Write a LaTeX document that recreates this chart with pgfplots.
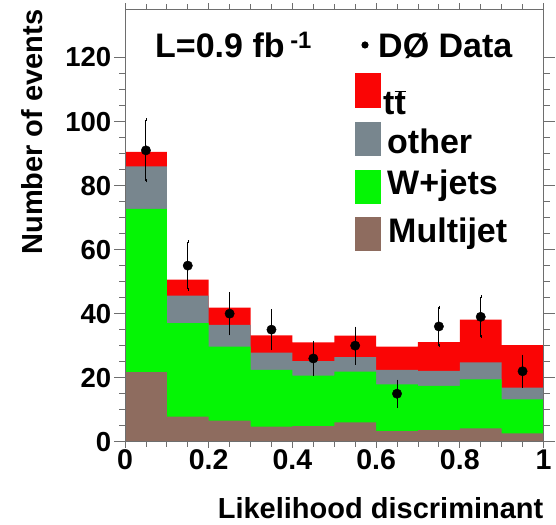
\documentclass[border=0pt]{standalone}
\usepackage{pgfplots}
\pgfplotsset{compat=1.18}
\usepackage{fontspec}
\setmainfont{Liberation Sans}
\definecolor{ttred}{RGB}{250,5,5}
\definecolor{othgray}{RGB}{120,134,142}
\definecolor{wgreen}{RGB}{5,245,5}
\definecolor{mjbrown}{RGB}{142,108,95}
\definecolor{framegray}{RGB}{110,110,110}
\newcommand{\fs}[1]{\fontsize{#1bp}{#1bp}\selectfont\bfseries}
\begin{document}
\begin{tikzpicture}
\path[use as bounding box] (-125bp,-83.3bp) rectangle (431bp,441.7bp);
\begin{axis}[
  at={(0,0)}, anchor=south west,
  scale only axis, width=418.5bp, height=432.2bp,
  xmin=0, xmax=1, ymin=0, ymax=135,
  xtick={0,0.2,0.4,0.6,0.8,1},
  ytick={0,20,...,120},
  minor x tick num=3, minor y tick num=3,
  tick align=outside,
  axis line style={framegray, line width=0.8bp},
  tick style={framegray, line width=0.8bp},
  xtick style={/pgfplots/major tick length=6bp,/pgfplots/minor tick length=5bp},
  ytick style={/pgfplots/major tick length=11bp,/pgfplots/minor tick length=6bp},
  xticklabel style={font=\fs{28.5}},
  yticklabel style={font=\fs{27.5}, xshift=-6bp},
  /pgf/number format/assume math mode=true,
  axis on top,
  clip=false,
]
% cumulative stack tops: total (ttbar on top)
\addplot[const plot, fill=ttred, draw=none] coordinates {
(0,90.5)(0.1,50.6)(0.2,41.9)(0.3,33.2)(0.4,31.0)(0.5,33.1)(0.6,29.7)(0.7,31.1)(0.8,38.1)(0.9,30.2)(1,30.2)} \closedcycle;
% other + W+jets + multijet
\addplot[const plot, fill=othgray, draw=none] coordinates {
(0,86.0)(0.1,45.6)(0.2,36.5)(0.3,27.8)(0.4,25.2)(0.5,26.4)(0.6,22.4)(0.7,22.1)(0.8,24.8)(0.9,16.9)(1,16.9)} \closedcycle;
% W+jets + multijet
\addplot[const plot, fill=wgreen, draw=none] coordinates {
(0,72.7)(0.1,37.0)(0.2,29.7)(0.3,22.4)(0.4,20.6)(0.5,21.9)(0.6,17.9)(0.7,17.4)(0.8,19.5)(0.9,13.2)(1,13.2)} \closedcycle;
% multijet
\addplot[const plot, fill=mjbrown, draw=none] coordinates {
(0,21.7)(0.1,7.8)(0.2,6.6)(0.3,4.7)(0.4,4.9)(0.5,6.0)(0.6,3.3)(0.7,3.6)(0.8,4.2)(0.9,2.6)(1,2.6)} \closedcycle;
% data
\addplot[only marks, mark=*, mark size=4.7bp, black,
  error bars/.cd, y dir=both, y explicit,
  error bar style={line width=1bp, black},
  error mark options={mark size=1.5bp, black}]
coordinates {
(0.05,91) +- (0,9.5)
(0.15,55) +- (0,7.4)
(0.25,40) +- (0,6.3)
(0.35,35) +- (0,5.9)
(0.45,26) +- (0,5.1)
(0.55,30) +- (0,5.5)
(0.65,15) +- (0,3.9)
(0.75,36) +- (0,6.0)
(0.85,39) +- (0,6.2)
(0.95,22) +- (0,4.7)
};
\end{axis}
% legend and texts
\node[anchor=base west, inner sep=0, font=\fs{34}] at (30bp,384.4bp) {L=0.9 fb\,\textsuperscript{-1}};
\fill (240bp,396.7bp) circle (3.6bp);
\node[anchor=base west, inner sep=0, font=\fs{34}] at (253bp,384.4bp) {DØ Data};
\fill[ttred] (230bp,333.7bp) rectangle (256bp,368.7bp);
\node[anchor=base west, inner sep=0, font=\fs{34}] at (258bp,326.7bp) {t$\overline{\mbox{t}}$};
\fill[othgray] (230bp,285.7bp) rectangle (256bp,319.7bp);
\node[anchor=base west, inner sep=0, font=\fs{34}] at (262bp,287.7bp) {other};
\fill[wgreen] (230bp,237.7bp) rectangle (256bp,271.7bp);
\node[anchor=base west, inner sep=0, font=\fs{34}] at (262bp,246.7bp) {W+jets};
\fill[mjbrown] (230bp,190.7bp) rectangle (256bp,224.7bp);
\node[anchor=base west, inner sep=0, font=\fs{34}] at (263bp,198.7bp) {Multijet};
\node[rotate=90, anchor=east, inner sep=0, font=\fs{29}] at (-92.5bp,432.2bp) {Number of events};
\node[anchor=base east, inner sep=0, font=\fs{29}] at (418.5bp,-76.3bp) {Likelihood discriminant};
\end{tikzpicture}
\end{document}
